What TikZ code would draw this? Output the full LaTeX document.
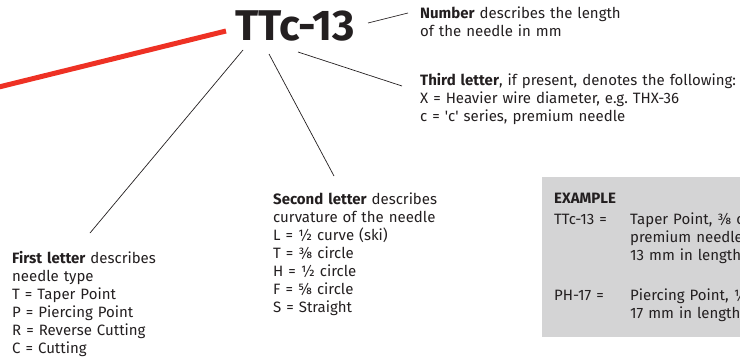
\documentclass[tikz,border=0pt]{standalone}
\usepackage{fontspec}
\setmainfont{Fira Sans}
\frenchspacing
\definecolor{ink}{HTML}{231F20}
\definecolor{needlered}{HTML}{EE3124}
\definecolor{boxgrey}{HTML}{D4D4D5}
\begin{document}
\begin{tikzpicture}[x=1pt,y=-1pt,
  txt/.style={anchor=base west, inner sep=0pt, text width=#1, align=left,
    font=\fontsize{15}{18}\selectfont, text=ink},
  lead/.style={draw=ink, line width=0.7pt},
  needle/.style={draw=needlered, line width=5pt}]
\useasboundingbox (0,0) rectangle (740,359);
\clip (0,0) rectangle (740,359);
% example box
\node[fill=boxgrey, anchor=north west, inner sep=0pt, minimum width=260pt, minimum height=160pt] (box) at (542,177) {};
% title
\node[anchor=base west, inner sep=0pt, text=ink, font=\fontsize{43}{43}\selectfont\bfseries] (title) at (235,40) {TTc-13};
% needle
\coordinate (redL) at (-10,89.2);
\coordinate (redR) at (226,31);
\draw[needle] (redL) -- (redR);
% texts
\node[txt=300pt] (number) at (420,18) {\textbf{Number} describes the length\\of the needle in mm};
\node[txt=340pt] (third) at (420,85) {\textbf{Third letter}, if present, denotes the following:\\X = Heavier wire diameter, e.g. THX-36\\c = \textquotesingle c\textquotesingle{} series, premium needle};
\node[txt=200pt] (first) at (12,263) {\textbf{First letter} describes\\needle type\\T = Taper Point\\P = Piercing Point\\R = Reverse Cutting\\C = Cutting};
\node[txt=200pt] (second) at (273,204) {\textbf{Second letter} describes\\curvature of the needle\\L = ½ curve (ski)\\T = ⅜ circle\\H = ½ circle\\F = ⅝ circle\\S = Straight};
% example
\node[txt=100pt] (exhead) at (554,203) {\textbf{EXAMPLE}};
\node[txt=80pt] (ex1l) at (554,224) {TTc-13 =};
\node[txt=200pt] (ex1r) at (630,224) {Taper Point, ⅜ circle,\\premium needle,\\13 mm in length};
\node[txt=80pt] (ex2l) at (554,300) {PH-17 =};
\node[txt=200pt] (ex2r) at (630,300) {Piercing Point, ½ circle,\\17 mm in length};
% leader lines
\coordinate (numA) at (368,23); \coordinate (numB) at (408,13);
\coordinate (thiA) at (298,52); \coordinate (thiB) at (402,86);
\coordinate (fstA) at (243,50); \coordinate (fstB) at (90,233);
\coordinate (sndA) at (269,54); \coordinate (sndB) at (334,176);
\draw[lead] (numA) -- (numB);
\draw[lead] (thiA) -- (thiB);
\draw[lead] (fstA) -- (fstB);
\draw[lead] (sndA) -- (sndB);
\end{tikzpicture}
\end{document}
